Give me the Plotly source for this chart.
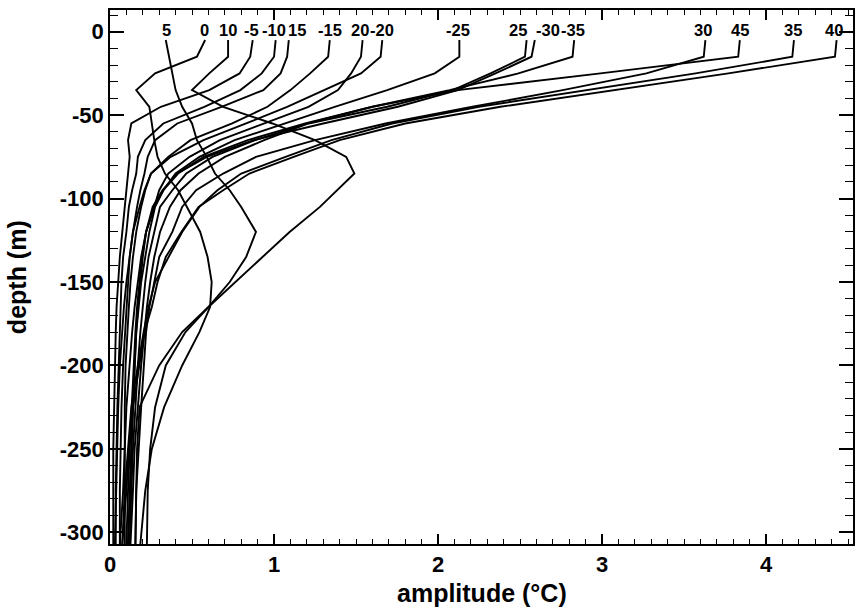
import plotly.graph_objects as go

# depth levels (m)
depth_m = [-5, -15, -25, -35, -45, -55, -65, -75, -85, -95, -105, -120, -135, -150,
           -165, -180, -200, -225, -250, -275, -307]

labels = ["5", "0", "10", "-5", "-10", "15", "-15", "20", "-20", "-25", "25",
          "-30", "-35", "30", "45", "35", "40"]

amp_5 = [0.34, 0.36, 0.38, 0.40, 0.44, 0.50, 0.53, 0.59, 0.64, 0.73, 0.80, 0.89, 0.83, 0.73, 0.60, 0.46, 0.34, 0.275, 0.245, 0.23, 0.225]
amp_0 = [0.58, 0.53, 0.275, 0.16, 0.24, 0.255, 0.27, 0.29, 0.335, 0.415, 0.47, 0.55, 0.595, 0.62, 0.61, 0.545, 0.44, 0.33, 0.255, 0.215, 0.185]
amp_10 = [0.72, 0.72, 0.605, 0.50, 0.69, 0.99, 1.25, 1.44, 1.49, 1.385, 1.28, 1.095, 0.93, 0.76, 0.60, 0.44, 0.30, 0.18, 0.165, 0.16, 0.155]
amp_m5 = [0.87, 0.855, 0.79, 0.605, 0.31, 0.13, 0.11, 0.12, 0.11, 0.10, 0.09, 0.075, 0.06, 0.05, 0.04, 0.035, 0.03, 0.025, 0.02, 0.02, 0.02]
amp_m10 = [1.01, 1.0, 0.925, 0.795, 0.575, 0.325, 0.215, 0.17, 0.16, 0.135, 0.115, 0.10, 0.08, 0.07, 0.065, 0.06, 0.05, 0.045, 0.04, 0.035, 0.035]
amp_15 = [1.09, 1.08, 1.04, 0.935, 0.68, 0.41, 0.275, 0.23, 0.21, 0.185, 0.165, 0.14, 0.12, 0.11, 0.10, 0.09, 0.08, 0.07, 0.065, 0.06, 0.06]
amp_m15 = [1.34, 1.33, 1.22, 1.10, 0.96, 0.745, 0.49, 0.355, 0.25, 0.215, 0.19, 0.16, 0.14, 0.125, 0.115, 0.105, 0.095, 0.09, 0.09, 0.09, 0.09]
amp_20 = [1.54, 1.53, 1.47, 1.39, 1.21, 0.94, 0.67, 0.485, 0.355, 0.30, 0.27, 0.22, 0.20, 0.185, 0.17, 0.16, 0.15, 0.14, 0.13, 0.12, 0.11]
amp_m20 = [1.66, 1.65, 1.53, 1.31, 1.08, 0.83, 0.57, 0.37, 0.25, 0.21, 0.18, 0.14, 0.12, 0.10, 0.085, 0.075, 0.06, 0.05, 0.045, 0.04, 0.03]
amp_m25 = [2.13, 2.13, 1.98, 1.69, 1.37, 1.06, 0.76, 0.545, 0.40, 0.325, 0.27, 0.22, 0.195, 0.18, 0.165, 0.155, 0.145, 0.13, 0.12, 0.11, 0.10]
amp_25 = [2.54, 2.53, 2.32, 2.09, 1.69, 1.21, 0.94, 0.70, 0.54, 0.43, 0.365, 0.305, 0.27, 0.245, 0.225, 0.21, 0.19, 0.17, 0.15, 0.14, 0.125]
amp_m30 = [2.59, 2.57, 2.35, 2.12, 1.755, 1.30, 0.875, 0.59, 0.41, 0.32, 0.26, 0.22, 0.19, 0.17, 0.15, 0.135, 0.12, 0.10, 0.09, 0.08, 0.06]
amp_m35 = [2.83, 2.82, 2.49, 2.07, 1.60, 1.19, 0.84, 0.57, 0.415, 0.325, 0.275, 0.24, 0.215, 0.19, 0.175, 0.16, 0.15, 0.14, 0.13, 0.12, 0.11]
amp_30 = [3.63, 3.62, 3.27, 2.76, 2.21, 1.68, 1.25, 0.89, 0.69, 0.525, 0.44, 0.38, 0.30, 0.27, 0.24, 0.22, 0.205, 0.19, 0.175, 0.16, 0.155]
amp_45 = [3.84, 3.83, 2.99, 2.12, 1.60, 1.205, 0.885, 0.625, 0.465, 0.38, 0.305, 0.27, 0.235, 0.215, 0.20, 0.185, 0.17, 0.155, 0.14, 0.13, 0.12]
amp_35 = [4.17, 4.16, 3.57, 2.91, 2.25, 1.72, 1.35, 1.07, 0.80, 0.655, 0.545, 0.44, 0.355, 0.275, 0.235, 0.205, 0.17, 0.13, 0.11, 0.09, 0.075]
amp_40 = [4.43, 4.42, 3.77, 3.06, 2.38, 1.80, 1.40, 1.12, 0.85, 0.69, 0.54, 0.435, 0.34, 0.29, 0.255, 0.21, 0.18, 0.14, 0.115, 0.10, 0.075]

profiles = [amp_5, amp_0, amp_10, amp_m5, amp_m10, amp_15, amp_m15, amp_20, amp_m20,
            amp_m25, amp_25, amp_m30, amp_m35, amp_30, amp_45, amp_35, amp_40]

# axis tick labels
x_ticks = [0, 1, 2, 3, 4]
x_ticktext = ["0", "1", "2", "3", "4"]
y_ticks = [0, -50, -100, -150, -200, -250, -300]
y_ticktext = ["0", "-50", "-100", "-150", "-200", "-250", "-300"]

# label horizontal nudges in pixels (styling only)
label_shift = [1, -1, 0, -1, -2, 8, 0, -3, 0, -1, -9, 13, -1, -2, 0, -1, -3]

FONT = "Liberation Sans, Arial, Helvetica, sans-serif"

fig = go.Figure()
for lab, amp in zip(labels, profiles):
    fig.add_trace(go.Scatter(x=amp, y=depth_m, mode="lines",
                             line=dict(color="black", width=1.9),
                             name=lab, showlegend=False, hoverinfo="skip"))

for lab, amp, sh in zip(labels, profiles, label_shift):
    fig.add_annotation(x=amp[0], y=1, text=lab, showarrow=False, xshift=sh,
                       xanchor="center", yanchor="middle",
                       font=dict(family=FONT, size=16.5, color="black", weight="bold"))

fig.add_annotation(xref="paper", yref="paper", x=0.5, y=-0.092, text="amplitude (°C)",
                   showarrow=False, xanchor="center", yanchor="middle",
                   font=dict(family=FONT, size=25, color="black", weight="bold"))
fig.add_annotation(xref="paper", yref="paper", x=-0.125, y=0.5, text="depth (m)",
                   showarrow=False, textangle=-90, xanchor="center", yanchor="middle",
                   font=dict(family=FONT, size=25, color="black", weight="bold"))

fig.update_layout(
    width=855, height=609,
    margin=dict(l=110, r=2, t=10, b=65, autoexpand=False),
    paper_bgcolor="white", plot_bgcolor="white",
    font=dict(family=FONT, color="black"),
    hovermode=False,
)
fig.update_xaxes(
    range=[0, 4.53], showgrid=False, zeroline=False, automargin=False,
    showline=True, linecolor="black", linewidth=1.5, mirror="allticks",
    ticks="inside", ticklen=10, tickwidth=1.5, tickcolor="black",
    tickmode="array", tickvals=x_ticks, ticktext=x_ticktext,
    minor=dict(ticks="inside", dtick=0.1, tick0=0, ticklen=5, tickwidth=1, tickcolor="black"),
    tickfont=dict(family=FONT, size=22, weight="bold"),
)
fig.update_yaxes(
    range=[-307, 13], showgrid=False, zeroline=False, automargin=False,
    showline=True, linecolor="black", linewidth=1.5, mirror="allticks",
    ticks="inside", ticklen=14, tickwidth=1.5, tickcolor="black",
    tickmode="array", tickvals=y_ticks, ticktext=y_ticktext,
    minor=dict(ticks="inside", dtick=10, tick0=0, ticklen=8, tickwidth=1, tickcolor="black"),
    tickfont=dict(family=FONT, size=22, weight="bold"),
)

fig.write_html("out.html", config={"displayModeBar": False})

# remove the browser's default page margin so the figure sits at the top-left corner
with open("out.html", "r", encoding="utf-8") as fh:
    html = fh.read()
html = html.replace("<head>", "<head><style>html,body{margin:0;padding:0;}</style>", 1)
with open("out.html", "w", encoding="utf-8") as fh:
    fh.write(html)
